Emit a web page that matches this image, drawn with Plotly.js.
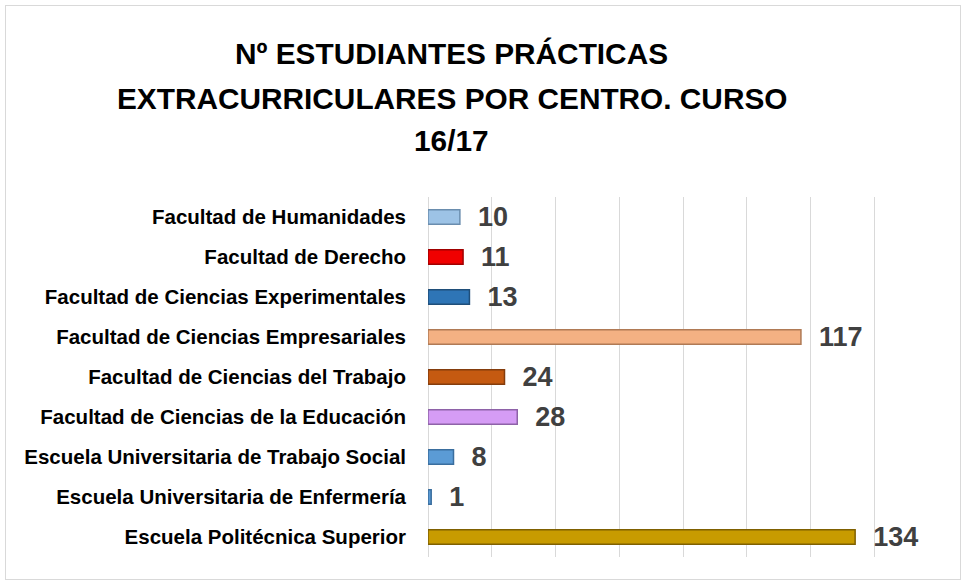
<!DOCTYPE html>
<html>
<head>
<meta charset="utf-8">
<script src="https://cdn.plot.ly/plotly-3.0.1.min.js"></script>
<style>
html,body{margin:0;padding:0;background:#fff;}
#frame{position:absolute;left:5px;top:5px;width:954px;height:573px;border:1px solid #d9d9d9;}
#chart{width:954px;height:573px;}
</style>
</head>
<body>
<div id="frame"><div id="chart"></div></div>
<script>
var categories = [
  "Facultad de Humanidades",
  "Facultad de Derecho",
  "Facultad de Ciencias Experimentales",
  "Facultad de Ciencias Empresariales",
  "Facultad de Ciencias del Trabajo",
  "Facultad de Ciencias de la Educación",
  "Escuela Universitaria de Trabajo Social",
  "Escuela Universitaria de Enfermería",
  "Escuela Politécnica Superior"
];
var students = [10, 11, 13, 117, 24, 28, 8, 1, 134];
var titleLines = ["Nº ESTUDIANTES PRÁCTICAS", "EXTRACURRICULARES POR CENTRO. CURSO", "16/17"];
var barColors = ["#9DC3E6", "#F00000", "#2E75B6", "#F4B183", "#C55A11", "#D59CF5", "#5B9BD5", "#5B9BD5", "#C89B00"];
var edgeColors = ["#6A8DAE", "#A00000", "#1F4E79", "#B07A55", "#843C0C", "#8E62A8", "#3A6E9E", "#3A6E9E", "#7F6000"];

var trace = {
  type: "bar",
  orientation: "h",
  y: categories,
  x: students,
  marker: {color: barColors, line: {color: edgeColors, width: 1.5}},
  texttemplate: "\u00a0\u00a0%{x}",
  textposition: "outside",
  constraintext: "none",
  cliponaxis: false,
  textfont: {family: "Liberation Sans, Arial, sans-serif", size: 27, color: "#404040", weight: "bold"},
  hoverinfo: "none"
};

var titleY = [1.40, 1.275, 1.156];
var annotations = titleLines.map(function (t, i) {
  return {
    text: "<b>" + t + "</b>",
    xref: "paper", yref: "paper",
    x: 0.047, y: titleY[i],
    xanchor: "center", yanchor: "middle",
    showarrow: false,
    font: {family: "Liberation Sans, Arial, sans-serif", size: 29.8, color: "#000000"}
  };
});

var layout = {
  width: 954,
  height: 573,
  margin: {l: 422, r: 22, t: 191, b: 22},
  paper_bgcolor: "#ffffff",
  plot_bgcolor: "#ffffff",
  showlegend: false,
  bargap: 0.64,
  annotations: annotations,
  xaxis: {
    range: [0, 160],
    dtick: 20,
    showticklabels: false,
    showgrid: true,
    gridcolor: "#d9d9d9",
    gridwidth: 1,
    zeroline: true,
    zerolinecolor: "#d9d9d9",
    zerolinewidth: 1,
    showline: false,
    fixedrange: true
  },
  yaxis: {
    type: "category",
    autorange: "reversed",
    showgrid: false,
    zeroline: false,
    showline: false,
    ticks: "",
    ticklabelstandoff: 21,
    tickfont: {family: "Liberation Sans, Arial, sans-serif", size: 20.5, color: "#000000", weight: "bold"},
    fixedrange: true
  }
};

Plotly.newPlot("chart", [trace], layout, {displayModeBar: false, staticPlot: true});
</script>
</body>
</html>
